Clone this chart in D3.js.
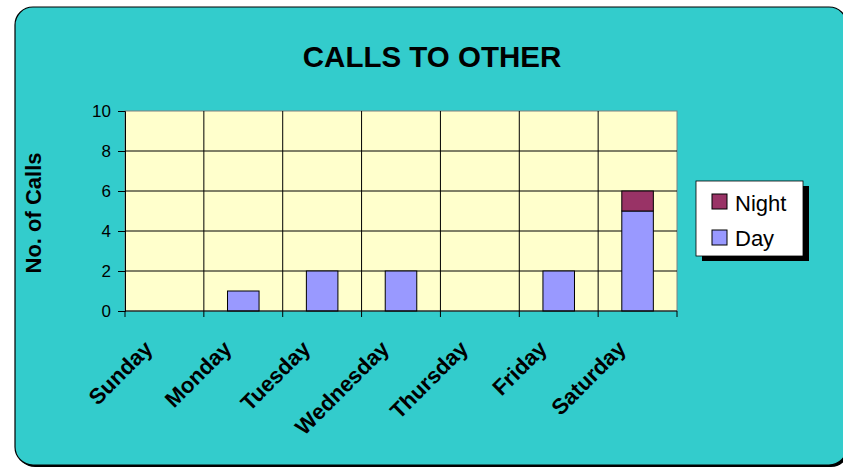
<!DOCTYPE html>
<html>
<head>
<meta charset="utf-8">
<script src="https://cdn.jsdelivr.net/npm/d3@7"></script>
<style>
  body { margin: 0; background: #fff; }
  text { font-family: "Liberation Sans", Arial, sans-serif; }
</style>
</head>
<body>
<svg id="chart" width="843" height="467"></svg>
<script>
const days = ["Sunday", "Monday", "Tuesday", "Wednesday", "Thursday", "Friday", "Saturday"];
const dayCalls = [0, 1, 2, 2, 0, 2, 5];
const nightCalls = [0, 0, 0, 0, 0, 0, 1];
const yTicks = [0, 2, 4, 6, 8, 10];

const svg = d3.select("#chart");

// outer frame with shadow
svg.append("rect").attr("x", 17).attr("y", 9).attr("width", 832).attr("height", 458)
  .attr("rx", 18).attr("fill", "#000");
svg.append("rect").attr("x", 15).attr("y", 7).attr("width", 832).attr("height", 458)
  .attr("rx", 18).attr("fill", "#33CCCC").attr("stroke", "#000").attr("stroke-width", 1.2);

const plot = { left: 125, right: 677, top: 111, bottom: 311 };

const x = d3.scaleBand().domain(days).range([plot.left, plot.right]).paddingInner(0).paddingOuter(0);
const y = d3.scaleLinear().domain([0, 10]).range([plot.bottom, plot.top]);

svg.append("rect").attr("x", plot.left).attr("y", plot.top)
  .attr("width", plot.right - plot.left).attr("height", plot.bottom - plot.top)
  .attr("fill", "#FFFFCC").attr("stroke", "#808080").attr("stroke-width", 1);

// horizontal gridlines
svg.selectAll(".hgrid").data(yTicks.filter(t => t > 0 && t < 10)).enter().append("line")
  .attr("x1", plot.left).attr("x2", plot.right)
  .attr("y1", d => y(d)).attr("y2", d => y(d))
  .attr("stroke", "#000").attr("stroke-width", 1);

// vertical gridlines
svg.selectAll(".vgrid").data(days.slice(1)).enter().append("line")
  .attr("x1", d => x(d)).attr("x2", d => x(d))
  .attr("y1", plot.top).attr("y2", plot.bottom)
  .attr("stroke", "#000").attr("stroke-width", 1);

// bars
const stacked = days.map((d, i) => ({ day: d, dayv: dayCalls[i], night: nightCalls[i] }));
const bw = x.bandwidth() * 0.4;
svg.selectAll(".day").data(stacked.filter(d => d.dayv > 0)).enter().append("rect")
  .attr("x", d => x(d.day) + (x.bandwidth() - bw) / 2)
  .attr("y", d => y(d.dayv))
  .attr("width", bw)
  .attr("height", d => y(0) - y(d.dayv))
  .attr("fill", "#9999FF").attr("stroke", "#000").attr("stroke-width", 1);
svg.selectAll(".night").data(stacked.filter(d => d.night > 0)).enter().append("rect")
  .attr("x", d => x(d.day) + (x.bandwidth() - bw) / 2)
  .attr("y", d => y(d.dayv + d.night))
  .attr("width", bw)
  .attr("height", d => y(d.dayv) - y(d.dayv + d.night))
  .attr("fill", "#993366").attr("stroke", "#000").attr("stroke-width", 1);

// y axis
const yAxis = svg.append("g").attr("transform", `translate(${plot.left},0)`)
  .call(d3.axisLeft(y).tickValues(yTicks).tickSize(7).tickPadding(7));
yAxis.select(".domain").attr("stroke", "#000");
yAxis.selectAll("text").attr("font-size", 17).attr("fill", "#000")
  .style("font-family", "'Liberation Sans', Arial, sans-serif");

// x axis
const xAxis = svg.append("g").attr("transform", `translate(0,${plot.bottom})`);
xAxis.append("line").attr("x1", plot.left).attr("x2", plot.right).attr("stroke", "#000");
xAxis.selectAll(".xtick").data(days.concat(["_end"])).enter().append("line")
  .attr("x1", d => d === "_end" ? plot.right : x(d))
  .attr("x2", d => d === "_end" ? plot.right : x(d))
  .attr("y1", 0).attr("y2", 6).attr("stroke", "#000");
xAxis.selectAll(".xlabel").data(days).enter().append("text")
  .attr("text-anchor", "end")
  .attr("font-weight", "bold").attr("font-size", 22)
  .attr("transform", d => `translate(${x(d) + x.bandwidth() / 2 - 10.5},39) rotate(-45)`)
  .text(d => d);

// title
svg.append("text").attr("x", 432).attr("y", 67).attr("text-anchor", "middle")
  .attr("font-weight", "bold").attr("font-size", 29.5).text("CALLS TO OTHER");

// y label
svg.append("text").attr("transform", "translate(41,213) rotate(-90)")
  .attr("text-anchor", "middle").attr("font-weight", "bold").attr("font-size", 22)
  .text("No. of Calls");

// legend
const lg = svg.append("g").attr("transform", "translate(696,181)");
lg.append("rect").attr("x", 6).attr("y", 5).attr("width", 107).attr("height", 75).attr("fill", "#000");
lg.append("rect").attr("width", 107).attr("height", 75).attr("fill", "#fff").attr("stroke", "#000").attr("stroke-width", 0.8);
const legendItems = [{ name: "Night", color: "#993366" }, { name: "Day", color: "#9999FF" }];
legendItems.forEach((it, i) => {
  lg.append("rect").attr("x", 16).attr("y", 13 + i * 36).attr("width", 15).attr("height", 15)
    .attr("fill", it.color).attr("stroke", "#000").attr("stroke-width", 1);
  lg.append("text").attr("x", 39).attr("y", 30 + i * 35).attr("font-size", 22).text(it.name);
});
</script>
</body>
</html>
